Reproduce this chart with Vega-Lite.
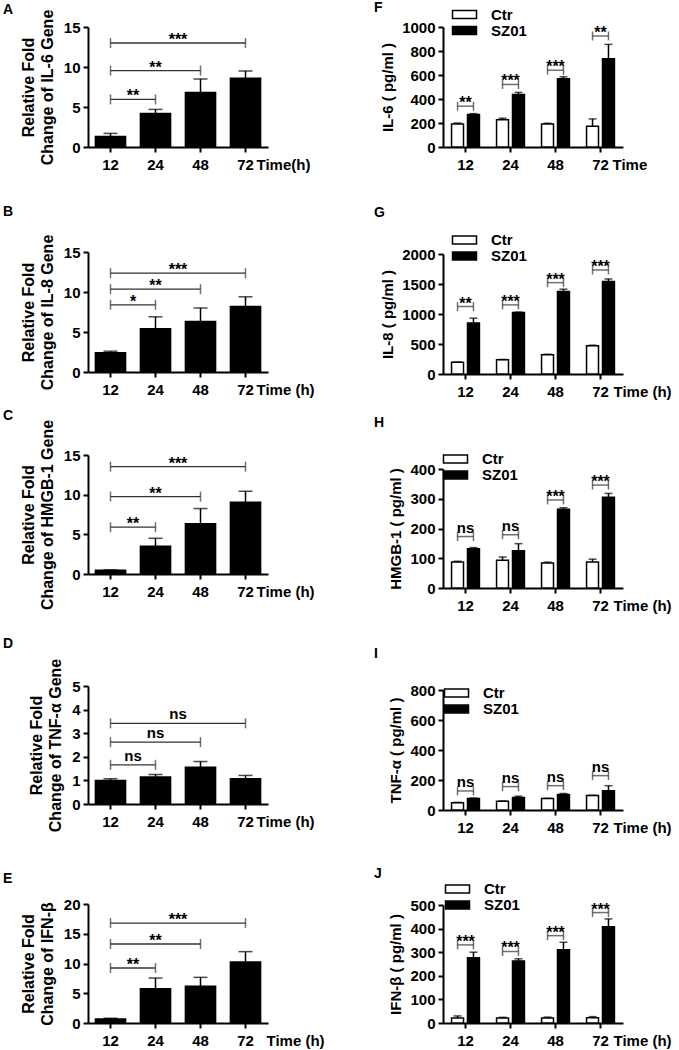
{
"$schema":"https://vega.github.io/schema/vega-lite/v6.json",
"autosize":{"type":"none"},
"padding":{"left":88,"top":27,"right":591,"bottom":1023},
"background":"white",
"config":{
 "font":"Liberation Sans",
 "view":{"stroke":null},
 "axis":{"domainColor":"black","domainWidth":2,"tickColor":"black","tickWidth":2,"tickSize":5,"labelColor":"black","labelFont":"Liberation Sans","labelFontWeight":"bold","labelFontSize":15,"titleColor":"black","titleFont":"Liberation Sans","titleFontWeight":"bold","grid":false,"labelOverlap":false,"labelFlush":false},
 "axisX":{"labelAngle":0,"labelPadding":5,"titleFontSize":15,"titleAlign":"left","titleBaseline":"top","titleAngle":0,"titleY":10,"titleX":168},
 "axisY":{"labelPadding":3,"titleFontSize":16,"titleLineHeight":19,"titlePadding":8,"format":"d"},
 "legend":{"orient":"none","padding":0,"symbolType":"M-2,-0.65H2V0.65H-2Z","symbolSize":144,"symbolStrokeColor":"black","symbolStrokeWidth":1.5,"labelFont":"Liberation Sans","labelFontSize":15,"labelFontWeight":"bold","labelColor":"black","labelOffset":19,"rowPadding":-1},
 "title":{"font":"Liberation Sans","fontSize":14,"fontWeight":"bold","color":"black","anchor":"start","frame":"group","offset":0,"baseline":"middle"},
 "bar":{"stroke":"black","strokeWidth":1.5},
 "rule":{"color":"black","strokeWidth":1.5},
 "tick":{"color":"black","thickness":1.5},
 "text":{"font":"Liberation Sans","fontWeight":"bold","color":"black","fontSize":16}
},
"datasets":{
 "A":[{"time":12,"mean":1.3,"upper":1.7},{"time":24,"mean":4.2,"upper":4.7},{"time":48,"mean":6.8,"upper":8.5},{"time":72,"mean":8.6,"upper":9.5}],
 "Ab":[{"x1":0.5,"x2":1.5,"xm":1.0,"y":5.95,"label":"**"},{"x1":0.5,"x2":2.5,"xm":1.5,"y":9.55,"label":"**"},{"x1":0.5,"x2":3.5,"xm":2.0,"y":13.0,"label":"***"}],
 "B":[{"time":12,"mean":2.4,"upper":2.6},{"time":24,"mean":5.4,"upper":6.9},{"time":48,"mean":6.3,"upper":8.0},{"time":72,"mean":8.2,"upper":9.4}],
 "Bb":[{"x1":0.5,"x2":1.5,"xm":1.0,"y":8.4,"label":"*"},{"x1":0.5,"x2":2.5,"xm":1.5,"y":10.35,"label":"**"},{"x1":0.5,"x2":3.5,"xm":2.0,"y":12.35,"label":"***"}],
 "C":[{"time":12,"mean":0.46,"upper":0.52},{"time":24,"mean":3.5,"upper":4.5},{"time":48,"mean":6.33,"upper":8.25},{"time":72,"mean":9.05,"upper":10.43}],
 "Cb":[{"x1":0.5,"x2":1.5,"xm":1.0,"y":5.9,"label":"**"},{"x1":0.5,"x2":2.5,"xm":1.5,"y":9.76,"label":"**"},{"x1":0.5,"x2":3.5,"xm":2.0,"y":13.53,"label":"***"}],
 "D":[{"time":12,"mean":1.0,"upper":1.07},{"time":24,"mean":1.14,"upper":1.25},{"time":48,"mean":1.56,"upper":1.8},{"time":72,"mean":1.07,"upper":1.21}],
 "Db":[{"x1":0.5,"x2":1.5,"xm":1.0,"y":1.66,"label":"ns"},{"x1":0.5,"x2":2.5,"xm":1.5,"y":2.62,"label":"ns"},{"x1":0.5,"x2":3.5,"xm":2.0,"y":3.42,"label":"ns"}],
 "E":[{"time":12,"mean":0.67,"upper":0.8},{"time":24,"mean":5.77,"upper":7.56},{"time":48,"mean":6.16,"upper":7.67},{"time":72,"mean":10.25,"upper":11.99}],
 "Eb":[{"x1":0.5,"x2":1.5,"xm":1.0,"y":9.24,"label":"**"},{"x1":0.5,"x2":2.5,"xm":1.5,"y":13.28,"label":"**"},{"x1":0.5,"x2":3.5,"xm":2.0,"y":16.8,"label":"***"}],
 "F":[{"time":12,"group":"Ctr","mean":192,"upper":200},{"time":12,"group":"SZ01","mean":270,"upper":278},{"time":24,"group":"Ctr","mean":228,"upper":240},{"time":24,"group":"SZ01","mean":437,"upper":455},{"time":48,"group":"Ctr","mean":192,"upper":198},{"time":48,"group":"SZ01","mean":568,"upper":585},{"time":72,"group":"Ctr","mean":173,"upper":234},{"time":72,"group":"SZ01","mean":735,"upper":855}],
 "Fb":[{"time":12,"y":340,"label":"**"},{"time":24,"y":521,"label":"***"},{"time":48,"y":640,"label":"***"},{"time":72,"y":925,"label":"**"}],
 "G":[{"time":12,"group":"Ctr","mean":194,"upper":200},{"time":12,"group":"SZ01","mean":848,"upper":931},{"time":24,"group":"Ctr","mean":238,"upper":243},{"time":24,"group":"SZ01","mean":1025,"upper":1032},{"time":48,"group":"Ctr","mean":321,"upper":330},{"time":48,"group":"SZ01","mean":1374,"upper":1413},{"time":72,"group":"Ctr","mean":471,"upper":480},{"time":72,"group":"SZ01","mean":1540,"upper":1584}],
 "Gb":[{"time":12,"y":1125,"label":"**"},{"time":24,"y":1152,"label":"***"},{"time":48,"y":1523,"label":"***"},{"time":72,"y":1734,"label":"***"}],
 "H":[{"time":12,"group":"Ctr","mean":87,"upper":90},{"time":12,"group":"SZ01","mean":132,"upper":136},{"time":24,"group":"Ctr","mean":93,"upper":104},{"time":24,"group":"SZ01","mean":125,"upper":149},{"time":48,"group":"Ctr","mean":84,"upper":87},{"time":48,"group":"SZ01","mean":265,"upper":270},{"time":72,"group":"Ctr","mean":87,"upper":97},{"time":72,"group":"SZ01","mean":305,"upper":318}],
 "Hb":[{"time":12,"y":173,"label":"ns"},{"time":24,"y":179,"label":"ns"},{"time":48,"y":296,"label":"***"},{"time":72,"y":346,"label":"***"}],
 "I":[{"time":12,"group":"Ctr","mean":49,"upper":51},{"time":12,"group":"SZ01","mean":76,"upper":80},{"time":24,"group":"Ctr","mean":58,"upper":60},{"time":24,"group":"SZ01","mean":84,"upper":92},{"time":48,"group":"Ctr","mean":76,"upper":78},{"time":48,"group":"SZ01","mean":104,"upper":110},{"time":72,"group":"Ctr","mean":96,"upper":98},{"time":72,"group":"SZ01","mean":129,"upper":162}],
 "Ib":[{"time":12,"y":127,"label":"ns"},{"time":24,"y":156,"label":"ns"},{"time":48,"y":162,"label":"ns"},{"time":72,"y":229,"label":"ns"}],
 "J":[{"time":12,"group":"Ctr","mean":21,"upper":30},{"time":12,"group":"SZ01","mean":277,"upper":300},{"time":24,"group":"Ctr","mean":21,"upper":24},{"time":24,"group":"SZ01","mean":263,"upper":272},{"time":48,"group":"Ctr","mean":21,"upper":25},{"time":48,"group":"SZ01","mean":310,"upper":342},{"time":72,"group":"Ctr","mean":22,"upper":27},{"time":72,"group":"SZ01","mean":408,"upper":441}],
 "Jb":[{"time":12,"y":331,"label":"***"},{"time":24,"y":303,"label":"***"},{"time":48,"y":370,"label":"***"},{"time":72,"y":468,"label":"***"}]
},
"bounds":"flush",
"spacing":355,
"resolve":{"scale":{"fill":"independent"},"legend":{"fill":"independent"}},
"hconcat":[
{"bounds":"flush","spacing":0,"vconcat":[
 {"width":180,"height":120,"title":{"text":"A","dx":-85,"dy":12},"resolve":{"scale":{"x":"independent"}},
  "layer":[
   {"data":{"name":"A"},"encoding":{"x":{"field":"time","type":"ordinal","scale":{"paddingInner":0.33,"paddingOuter":0.165},"axis":{"title":"Time(h)"}}},
    "layer":[
     {"mark":{"type":"bar","color":"black"},"encoding":{"y":{"field":"mean","type":"quantitative","scale":{"domain":[0,15],"nice":false,"range":[120,0]},"axis":{"values":[0,5,10,15],"title":["Relative Fold","Change of IL-6 Gene"]}}}},
     {"mark":"rule","encoding":{"y":{"field":"mean","type":"quantitative","axis":{"values":[0,5,10,15],"title":["Relative Fold","Change of IL-6 Gene"]}},"y2":{"field":"upper"}}},
     {"mark":{"type":"tick","orient":"horizontal","size":14},"encoding":{"y":{"field":"upper","type":"quantitative","axis":{"values":[0,5,10,15],"title":["Relative Fold","Change of IL-6 Gene"]}}}}
    ]},
   {"data":{"name":"Ab"},"encoding":{"y":{"field":"y","type":"quantitative","axis":{"values":[0,5,10,15],"title":["Relative Fold","Change of IL-6 Gene"]}}},
    "layer":[
     {"mark":{"type":"rule","color":"#333","strokeWidth":1.3},"encoding":{"x":{"field":"x1","type":"quantitative","scale":{"domain":[0,4],"nice":false,"zero":false},"axis":null},"x2":{"field":"x2"}}},
     {"mark":{"type":"tick","orient":"vertical","size":10,"color":"#333"},"encoding":{"x":{"field":"x1","type":"quantitative","axis":null}}},
     {"mark":{"type":"tick","orient":"vertical","size":10,"color":"#333"},"encoding":{"x":{"field":"x2","type":"quantitative","axis":null}}},
     {"transform":[{"filter":"datum.label !== 'ns'"}],"mark":{"type":"text","dy":2,"baseline":"alphabetic"},"encoding":{"x":{"field":"xm","type":"quantitative","axis":null},"text":{"field":"label"}}},
     {"transform":[{"filter":"datum.label === 'ns'"}],"mark":{"type":"text","dy":-4,"baseline":"alphabetic","fontSize":15},"encoding":{"x":{"field":"xm","type":"quantitative","axis":null},"text":{"field":"label"}}}
    ]}
  ]},
 {"width":180,"height":225,"title":{"text":"B","dx":-85,"dy":76},"resolve":{"scale":{"x":"independent"}},
  "layer":[
   {"data":{"name":"B"},"encoding":{"x":{"field":"time","type":"ordinal","scale":{"paddingInner":0.33,"paddingOuter":0.165},"axis":{"title":"Time (h)"}}},
    "layer":[
     {"mark":{"type":"bar","color":"black"},"encoding":{"y":{"field":"mean","type":"quantitative","scale":{"domain":[0,15],"nice":false,"range":[225,105]},"axis":{"values":[0,5,10,15],"title":["Relative Fold","Change of IL-8 Gene"]}}}},
     {"mark":"rule","encoding":{"y":{"field":"mean","type":"quantitative","axis":{"values":[0,5,10,15],"title":["Relative Fold","Change of IL-8 Gene"]}},"y2":{"field":"upper"}}},
     {"mark":{"type":"tick","orient":"horizontal","size":14},"encoding":{"y":{"field":"upper","type":"quantitative","axis":{"values":[0,5,10,15],"title":["Relative Fold","Change of IL-8 Gene"]}}}}
    ]},
   {"data":{"name":"Bb"},"encoding":{"y":{"field":"y","type":"quantitative","axis":{"values":[0,5,10,15],"title":["Relative Fold","Change of IL-8 Gene"]}}},
    "layer":[
     {"mark":{"type":"rule","color":"#333","strokeWidth":1.3},"encoding":{"x":{"field":"x1","type":"quantitative","scale":{"domain":[0,4],"nice":false,"zero":false},"axis":null},"x2":{"field":"x2"}}},
     {"mark":{"type":"tick","orient":"vertical","size":10,"color":"#333"},"encoding":{"x":{"field":"x1","type":"quantitative","axis":null}}},
     {"mark":{"type":"tick","orient":"vertical","size":10,"color":"#333"},"encoding":{"x":{"field":"x2","type":"quantitative","axis":null}}},
     {"transform":[{"filter":"datum.label !== 'ns'"}],"mark":{"type":"text","dy":2,"baseline":"alphabetic"},"encoding":{"x":{"field":"xm","type":"quantitative","axis":null},"text":{"field":"label"}}},
     {"transform":[{"filter":"datum.label === 'ns'"}],"mark":{"type":"text","dy":-4,"baseline":"alphabetic","fontSize":15},"encoding":{"x":{"field":"xm","type":"quantitative","axis":null},"text":{"field":"label"}}}
    ]}
  ]},
 {"width":180,"height":202,"title":{"text":"C","dx":-85,"dy":55},"resolve":{"scale":{"x":"independent"}},
  "layer":[
   {"data":{"name":"C"},"encoding":{"x":{"field":"time","type":"ordinal","scale":{"paddingInner":0.33,"paddingOuter":0.165},"axis":{"title":"Time (h)"}}},
    "layer":[
     {"mark":{"type":"bar","color":"black"},"encoding":{"y":{"field":"mean","type":"quantitative","scale":{"domain":[0,15],"nice":false,"range":[202,83]},"axis":{"values":[0,5,10,15],"title":["Relative Fold","Change of HMGB-1 Gene"]}}}},
     {"mark":"rule","encoding":{"y":{"field":"mean","type":"quantitative","axis":{"values":[0,5,10,15],"title":["Relative Fold","Change of HMGB-1 Gene"]}},"y2":{"field":"upper"}}},
     {"mark":{"type":"tick","orient":"horizontal","size":14},"encoding":{"y":{"field":"upper","type":"quantitative","axis":{"values":[0,5,10,15],"title":["Relative Fold","Change of HMGB-1 Gene"]}}}}
    ]},
   {"data":{"name":"Cb"},"encoding":{"y":{"field":"y","type":"quantitative","axis":{"values":[0,5,10,15],"title":["Relative Fold","Change of HMGB-1 Gene"]}}},
    "layer":[
     {"mark":{"type":"rule","color":"#333","strokeWidth":1.3},"encoding":{"x":{"field":"x1","type":"quantitative","scale":{"domain":[0,4],"nice":false,"zero":false},"axis":null},"x2":{"field":"x2"}}},
     {"mark":{"type":"tick","orient":"vertical","size":10,"color":"#333"},"encoding":{"x":{"field":"x1","type":"quantitative","axis":null}}},
     {"mark":{"type":"tick","orient":"vertical","size":10,"color":"#333"},"encoding":{"x":{"field":"x2","type":"quantitative","axis":null}}},
     {"transform":[{"filter":"datum.label !== 'ns'"}],"mark":{"type":"text","dy":2,"baseline":"alphabetic"},"encoding":{"x":{"field":"xm","type":"quantitative","axis":null},"text":{"field":"label"}}},
     {"transform":[{"filter":"datum.label === 'ns'"}],"mark":{"type":"text","dy":-4,"baseline":"alphabetic","fontSize":15},"encoding":{"x":{"field":"xm","type":"quantitative","axis":null},"text":{"field":"label"}}}
    ]}
  ]},
 {"width":180,"height":230,"title":{"text":"D","dx":-85,"dy":81},"resolve":{"scale":{"x":"independent"}},
  "layer":[
   {"data":{"name":"D"},"encoding":{"x":{"field":"time","type":"ordinal","scale":{"paddingInner":0.33,"paddingOuter":0.165},"axis":{"title":"Time (h)"}}},
    "layer":[
     {"mark":{"type":"bar","color":"black"},"encoding":{"y":{"field":"mean","type":"quantitative","scale":{"domain":[0,5],"nice":false,"range":[230,112]},"axis":{"values":[0,1,2,3,4,5],"title":["Relative Fold","Change of TNF-α Gene"]}}}},
     {"mark":"rule","encoding":{"y":{"field":"mean","type":"quantitative","axis":{"values":[0,1,2,3,4,5],"title":["Relative Fold","Change of TNF-α Gene"]}},"y2":{"field":"upper"}}},
     {"mark":{"type":"tick","orient":"horizontal","size":14},"encoding":{"y":{"field":"upper","type":"quantitative","axis":{"values":[0,1,2,3,4,5],"title":["Relative Fold","Change of TNF-α Gene"]}}}}
    ]},
   {"data":{"name":"Db"},"encoding":{"y":{"field":"y","type":"quantitative","axis":{"values":[0,1,2,3,4,5],"title":["Relative Fold","Change of TNF-α Gene"]}}},
    "layer":[
     {"mark":{"type":"rule","color":"#333","strokeWidth":1.3},"encoding":{"x":{"field":"x1","type":"quantitative","scale":{"domain":[0,4],"nice":false,"zero":false},"axis":null},"x2":{"field":"x2"}}},
     {"mark":{"type":"tick","orient":"vertical","size":10,"color":"#333"},"encoding":{"x":{"field":"x1","type":"quantitative","axis":null}}},
     {"mark":{"type":"tick","orient":"vertical","size":10,"color":"#333"},"encoding":{"x":{"field":"x2","type":"quantitative","axis":null}}},
     {"transform":[{"filter":"datum.label !== 'ns'"}],"mark":{"type":"text","dy":2,"baseline":"alphabetic"},"encoding":{"x":{"field":"xm","type":"quantitative","axis":null},"text":{"field":"label"}}},
     {"transform":[{"filter":"datum.label === 'ns'"}],"mark":{"type":"text","dy":-4,"baseline":"alphabetic","fontSize":15},"encoding":{"x":{"field":"xm","type":"quantitative","axis":null},"text":{"field":"label"}}}
    ]}
  ]},
 {"width":180,"height":219,"title":{"text":"E","dx":-85,"dy":86},"resolve":{"scale":{"x":"independent"}},
  "layer":[
   {"data":{"name":"E"},"encoding":{"x":{"field":"time","type":"ordinal","scale":{"paddingInner":0.33,"paddingOuter":0.165},"axis":{"title":"Time (h)","titleX":178}}},
    "layer":[
     {"mark":{"type":"bar","color":"black"},"encoding":{"y":{"field":"mean","type":"quantitative","scale":{"domain":[0,20],"nice":false,"range":[219,100]},"axis":{"values":[0,5,10,15,20],"title":["Relative Fold","Change of IFN-β"]}}}},
     {"mark":"rule","encoding":{"y":{"field":"mean","type":"quantitative","axis":{"values":[0,5,10,15,20],"title":["Relative Fold","Change of IFN-β"]}},"y2":{"field":"upper"}}},
     {"mark":{"type":"tick","orient":"horizontal","size":14},"encoding":{"y":{"field":"upper","type":"quantitative","axis":{"values":[0,5,10,15,20],"title":["Relative Fold","Change of IFN-β"]}}}}
    ]},
   {"data":{"name":"Eb"},"encoding":{"y":{"field":"y","type":"quantitative","axis":{"values":[0,5,10,15,20],"title":["Relative Fold","Change of IFN-β"]}}},
    "layer":[
     {"mark":{"type":"rule","color":"#333","strokeWidth":1.3},"encoding":{"x":{"field":"x1","type":"quantitative","scale":{"domain":[0,4],"nice":false,"zero":false},"axis":null},"x2":{"field":"x2"}}},
     {"mark":{"type":"tick","orient":"vertical","size":10,"color":"#333"},"encoding":{"x":{"field":"x1","type":"quantitative","axis":null}}},
     {"mark":{"type":"tick","orient":"vertical","size":10,"color":"#333"},"encoding":{"x":{"field":"x2","type":"quantitative","axis":null}}},
     {"transform":[{"filter":"datum.label !== 'ns'"}],"mark":{"type":"text","dy":2,"baseline":"alphabetic"},"encoding":{"x":{"field":"xm","type":"quantitative","axis":null},"text":{"field":"label"}}},
     {"transform":[{"filter":"datum.label === 'ns'"}],"mark":{"type":"text","dy":-4,"baseline":"alphabetic","fontSize":15},"encoding":{"x":{"field":"xm","type":"quantitative","axis":null},"text":{"field":"label"}}}
    ]}
  ]}
]},
{"bounds":"flush","spacing":0,"resolve":{"scale":{"fill":"independent"},"legend":{"fill":"independent"}},"vconcat":[
 {"width":180,"height":120,"title":{"text":"F","dx":-69,"dy":12},
  "layer":[
   {"data":{"name":"F"},"encoding":{"x":{"field":"time","type":"ordinal","scale":{"paddingInner":0.38,"paddingOuter":0.19},"axis":{"title":"Time","titleX":169}},"xOffset":{"field":"group","type":"nominal","scale":{"paddingInner":0.25,"paddingOuter":0}}},
    "layer":[
     {"mark":"bar","encoding":{"y":{"field":"mean","type":"quantitative","scale":{"domain":[0,1000],"nice":false,"range":[120,0]},"axis":{"values":[0,200,400,600,800,1000],"title":"IL-6 ( pg/ml )","titleFontSize":15,"titlePadding":6}},"fill":{"field":"group","type":"nominal","scale":{"domain":["Ctr","SZ01"],"range":["white","black"]},"legend":{"title":null,"legendX":14,"legendY":-20}}}},
     {"mark":"rule","encoding":{"y":{"field":"mean","type":"quantitative","axis":{"values":[0,200,400,600,800,1000],"title":"IL-6 ( pg/ml )","titleFontSize":15,"titlePadding":6}},"y2":{"field":"upper"}}},
     {"mark":{"type":"tick","orient":"horizontal","size":8},"encoding":{"y":{"field":"upper","type":"quantitative","axis":{"values":[0,200,400,600,800,1000],"title":"IL-6 ( pg/ml )","titleFontSize":15,"titlePadding":6}}}}
    ]},
   {"data":{"name":"Fb"},"encoding":{"x":{"field":"time","type":"ordinal","axis":{"title":"Time","titleX":169}},"y":{"field":"y","type":"quantitative","axis":{"values":[0,200,400,600,800,1000],"title":"IL-6 ( pg/ml )","titleFontSize":15,"titlePadding":6}}},
    "layer":[
     {"mark":{"type":"tick","orient":"horizontal","size":16,"color":"#333"}},
     {"mark":{"type":"tick","orient":"vertical","size":9,"color":"#333"},"encoding":{"xOffset":{"datum":"Ctr","type":"nominal"}}},
     {"mark":{"type":"tick","orient":"vertical","size":9,"color":"#333"},"encoding":{"xOffset":{"datum":"SZ01","type":"nominal"}}},
     {"transform":[{"filter":"datum.label !== 'ns'"}],"mark":{"type":"text","dy":2,"baseline":"alphabetic"},"encoding":{"text":{"field":"label"}}},
     {"transform":[{"filter":"datum.label === 'ns'"}],"mark":{"type":"text","dy":-4,"baseline":"alphabetic","fontSize":15},"encoding":{"text":{"field":"label"}}}
    ]}
  ]},
 {"width":180,"height":227,"title":{"text":"G","dx":-69,"dy":77},
  "layer":[
   {"data":{"name":"G"},"encoding":{"x":{"field":"time","type":"ordinal","scale":{"paddingInner":0.38,"paddingOuter":0.19},"axis":{"title":"Time (h)","titleX":170}},"xOffset":{"field":"group","type":"nominal","scale":{"paddingInner":0.25,"paddingOuter":0}}},
    "layer":[
     {"mark":"bar","encoding":{"y":{"field":"mean","type":"quantitative","scale":{"domain":[0,2000],"nice":false,"range":[227,107]},"axis":{"values":[0,500,1000,1500,2000],"title":"IL-8 ( pg/ml )","titleFontSize":15,"titlePadding":6}},"fill":{"field":"group","type":"nominal","scale":{"domain":["Ctr","SZ01"],"range":["white","black"]},"legend":{"title":null,"legendX":14,"legendY":85.5}}}},
     {"mark":"rule","encoding":{"y":{"field":"mean","type":"quantitative","axis":{"values":[0,500,1000,1500,2000],"title":"IL-8 ( pg/ml )","titleFontSize":15,"titlePadding":6}},"y2":{"field":"upper"}}},
     {"mark":{"type":"tick","orient":"horizontal","size":8},"encoding":{"y":{"field":"upper","type":"quantitative","axis":{"values":[0,500,1000,1500,2000],"title":"IL-8 ( pg/ml )","titleFontSize":15,"titlePadding":6}}}}
    ]},
   {"data":{"name":"Gb"},"encoding":{"x":{"field":"time","type":"ordinal","axis":{"title":"Time (h)","titleX":170}},"y":{"field":"y","type":"quantitative","axis":{"values":[0,500,1000,1500,2000],"title":"IL-8 ( pg/ml )","titleFontSize":15,"titlePadding":6}}},
    "layer":[
     {"mark":{"type":"tick","orient":"horizontal","size":16,"color":"#333"}},
     {"mark":{"type":"tick","orient":"vertical","size":9,"color":"#333"},"encoding":{"xOffset":{"datum":"Ctr","type":"nominal"}}},
     {"mark":{"type":"tick","orient":"vertical","size":9,"color":"#333"},"encoding":{"xOffset":{"datum":"SZ01","type":"nominal"}}},
     {"transform":[{"filter":"datum.label !== 'ns'"}],"mark":{"type":"text","dy":2,"baseline":"alphabetic"},"encoding":{"text":{"field":"label"}}},
     {"transform":[{"filter":"datum.label === 'ns'"}],"mark":{"type":"text","dy":-4,"baseline":"alphabetic","fontSize":15},"encoding":{"text":{"field":"label"}}}
    ]}
  ]},
 {"width":180,"height":214,"title":{"text":"H","dx":-69,"dy":60},
  "layer":[
   {"data":{"name":"H"},"encoding":{"x":{"field":"time","type":"ordinal","scale":{"paddingInner":0.38,"paddingOuter":0.19},"axis":{"title":"Time (h)","titleX":170}},"xOffset":{"field":"group","type":"nominal","scale":{"paddingInner":0.25,"paddingOuter":0}}},
    "layer":[
     {"mark":"bar","encoding":{"y":{"field":"mean","type":"quantitative","scale":{"domain":[0,400],"nice":false,"range":[214,95]},"axis":{"values":[0,100,200,300,400],"title":"HMGB-1 ( pg/ml )","titleFontSize":15,"titlePadding":6}},"fill":{"field":"group","type":"nominal","scale":{"domain":["Ctr","SZ01"],"range":["white","black"]},"legend":{"title":null,"legendX":5,"legendY":77.5}}}},
     {"mark":"rule","encoding":{"y":{"field":"mean","type":"quantitative","axis":{"values":[0,100,200,300,400],"title":"HMGB-1 ( pg/ml )","titleFontSize":15,"titlePadding":6}},"y2":{"field":"upper"}}},
     {"mark":{"type":"tick","orient":"horizontal","size":8},"encoding":{"y":{"field":"upper","type":"quantitative","axis":{"values":[0,100,200,300,400],"title":"HMGB-1 ( pg/ml )","titleFontSize":15,"titlePadding":6}}}}
    ]},
   {"data":{"name":"Hb"},"encoding":{"x":{"field":"time","type":"ordinal","axis":{"title":"Time (h)","titleX":170}},"y":{"field":"y","type":"quantitative","axis":{"values":[0,100,200,300,400],"title":"HMGB-1 ( pg/ml )","titleFontSize":15,"titlePadding":6}}},
    "layer":[
     {"mark":{"type":"tick","orient":"horizontal","size":16,"color":"#333"}},
     {"mark":{"type":"tick","orient":"vertical","size":9,"color":"#333"},"encoding":{"xOffset":{"datum":"Ctr","type":"nominal"}}},
     {"mark":{"type":"tick","orient":"vertical","size":9,"color":"#333"},"encoding":{"xOffset":{"datum":"SZ01","type":"nominal"}}},
     {"transform":[{"filter":"datum.label !== 'ns'"}],"mark":{"type":"text","dy":2,"baseline":"alphabetic"},"encoding":{"text":{"field":"label"}}},
     {"transform":[{"filter":"datum.label === 'ns'"}],"mark":{"type":"text","dy":-4,"baseline":"alphabetic","fontSize":15},"encoding":{"text":{"field":"label"}}}
    ]}
  ]},
 {"width":180,"height":222,"title":{"text":"I","dx":-69,"dy":77},
  "layer":[
   {"data":{"name":"I"},"encoding":{"x":{"field":"time","type":"ordinal","scale":{"paddingInner":0.38,"paddingOuter":0.19},"axis":{"title":"Time (h)","titleX":170}},"xOffset":{"field":"group","type":"nominal","scale":{"paddingInner":0.25,"paddingOuter":0}}},
    "layer":[
     {"mark":"bar","encoding":{"y":{"field":"mean","type":"quantitative","scale":{"domain":[0,800],"nice":false,"range":[222,102]},"axis":{"values":[0,200,400,600,800],"title":"TNF-α ( pg/ml )","titleFontSize":15,"titlePadding":6}},"fill":{"field":"group","type":"nominal","scale":{"domain":["Ctr","SZ01"],"range":["white","black"]},"legend":{"title":null,"legendX":6,"legendY":97.5}}}},
     {"mark":"rule","encoding":{"y":{"field":"mean","type":"quantitative","axis":{"values":[0,200,400,600,800],"title":"TNF-α ( pg/ml )","titleFontSize":15,"titlePadding":6}},"y2":{"field":"upper"}}},
     {"mark":{"type":"tick","orient":"horizontal","size":8},"encoding":{"y":{"field":"upper","type":"quantitative","axis":{"values":[0,200,400,600,800],"title":"TNF-α ( pg/ml )","titleFontSize":15,"titlePadding":6}}}}
    ]},
   {"data":{"name":"Ib"},"encoding":{"x":{"field":"time","type":"ordinal","axis":{"title":"Time (h)","titleX":170}},"y":{"field":"y","type":"quantitative","axis":{"values":[0,200,400,600,800],"title":"TNF-α ( pg/ml )","titleFontSize":15,"titlePadding":6}}},
    "layer":[
     {"mark":{"type":"tick","orient":"horizontal","size":16,"color":"#333"}},
     {"mark":{"type":"tick","orient":"vertical","size":9,"color":"#333"},"encoding":{"xOffset":{"datum":"Ctr","type":"nominal"}}},
     {"mark":{"type":"tick","orient":"vertical","size":9,"color":"#333"},"encoding":{"xOffset":{"datum":"SZ01","type":"nominal"}}},
     {"transform":[{"filter":"datum.label !== 'ns'"}],"mark":{"type":"text","dy":2,"baseline":"alphabetic"},"encoding":{"text":{"field":"label"}}},
     {"transform":[{"filter":"datum.label === 'ns'"}],"mark":{"type":"text","dy":-4,"baseline":"alphabetic","fontSize":15},"encoding":{"text":{"field":"label"}}}
    ]}
  ]},
 {"width":180,"height":213,"title":{"text":"J","dx":-69,"dy":75},
  "layer":[
   {"data":{"name":"J"},"encoding":{"x":{"field":"time","type":"ordinal","scale":{"paddingInner":0.38,"paddingOuter":0.19},"axis":{"title":"Time (h)","titleX":170}},"xOffset":{"field":"group","type":"nominal","scale":{"paddingInner":0.25,"paddingOuter":0}}},
    "layer":[
     {"mark":"bar","encoding":{"y":{"field":"mean","type":"quantitative","scale":{"domain":[0,500],"nice":false,"range":[213,95]},"axis":{"values":[0,100,200,300,400,500],"title":"IFN-β ( pg/ml )","titleFontSize":15,"titlePadding":6}},"fill":{"field":"group","type":"nominal","scale":{"domain":["Ctr","SZ01"],"range":["white","black"]},"legend":{"title":null,"legendX":7,"legendY":71.5}}}},
     {"mark":"rule","encoding":{"y":{"field":"mean","type":"quantitative","axis":{"values":[0,100,200,300,400,500],"title":"IFN-β ( pg/ml )","titleFontSize":15,"titlePadding":6}},"y2":{"field":"upper"}}},
     {"mark":{"type":"tick","orient":"horizontal","size":8},"encoding":{"y":{"field":"upper","type":"quantitative","axis":{"values":[0,100,200,300,400,500],"title":"IFN-β ( pg/ml )","titleFontSize":15,"titlePadding":6}}}}
    ]},
   {"data":{"name":"Jb"},"encoding":{"x":{"field":"time","type":"ordinal","axis":{"title":"Time (h)","titleX":170}},"y":{"field":"y","type":"quantitative","axis":{"values":[0,100,200,300,400,500],"title":"IFN-β ( pg/ml )","titleFontSize":15,"titlePadding":6}}},
    "layer":[
     {"mark":{"type":"tick","orient":"horizontal","size":16,"color":"#333"}},
     {"mark":{"type":"tick","orient":"vertical","size":9,"color":"#333"},"encoding":{"xOffset":{"datum":"Ctr","type":"nominal"}}},
     {"mark":{"type":"tick","orient":"vertical","size":9,"color":"#333"},"encoding":{"xOffset":{"datum":"SZ01","type":"nominal"}}},
     {"transform":[{"filter":"datum.label !== 'ns'"}],"mark":{"type":"text","dy":2,"baseline":"alphabetic"},"encoding":{"text":{"field":"label"}}},
     {"transform":[{"filter":"datum.label === 'ns'"}],"mark":{"type":"text","dy":-4,"baseline":"alphabetic","fontSize":15},"encoding":{"text":{"field":"label"}}}
    ]}
  ]}
]}
]
}
